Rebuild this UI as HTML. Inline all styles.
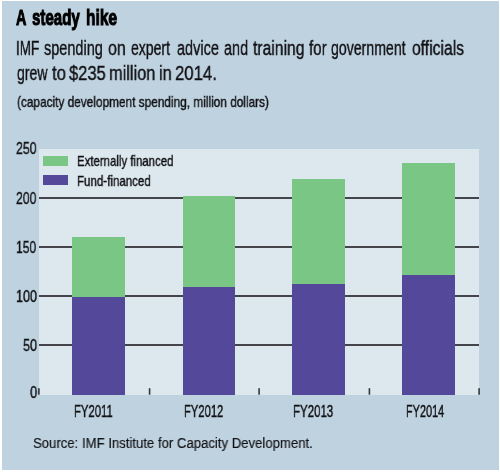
<!DOCTYPE html>
<html><head><meta charset="utf-8">
<style>
html,body{margin:0;padding:0;background:#fff;}
body{width:500px;height:472px;position:relative;overflow:hidden;font-family:"Liberation Sans",sans-serif;color:#111114;}
#bg{position:absolute;left:2px;top:1px;width:497px;height:469px;background:#BFD2E0;}
.t{position:absolute;white-space:nowrap;transform-origin:0 0;line-height:1;will-change:transform;-webkit-text-stroke:0.4px #111114;}
#plot{position:absolute;left:39px;top:149px;width:440px;height:246px;background:#DCE7EE;}
.g{position:absolute;left:39px;width:440px;height:2px;background:#44444b;}
.b{position:absolute;}
.gr{background:#79C685;}
.pu{background:#53489A;}
</style></head><body>
<div id="bg"></div>
<div id="plot"></div>
<div class="g" style="top:196.5px"></div>
<div class="g" style="top:246px"></div>
<div class="g" style="top:295px"></div>
<div class="g" style="top:344px"></div>
<div class="b gr" style="left:72px;top:237px;width:53px;height:60px"></div>
<div class="b pu" style="left:72px;top:297px;width:53px;height:98px"></div>
<div class="b gr" style="left:182.5px;top:196px;width:52.5px;height:91px"></div>
<div class="b pu" style="left:182.5px;top:287px;width:52.5px;height:108px"></div>
<div class="b gr" style="left:292px;top:179px;width:53px;height:105px"></div>
<div class="b pu" style="left:292px;top:284px;width:53px;height:111px"></div>
<div class="b gr" style="left:402px;top:163.3px;width:53px;height:112px"></div>
<div class="b pu" style="left:402px;top:275.3px;width:53px;height:119.7px"></div>
<div class="b gr" style="left:43px;top:156px;width:25px;height:10px"></div>
<div class="b pu" style="left:43px;top:174.5px;width:25px;height:10px"></div>
<svg style="position:absolute;left:0;top:0" width="500" height="472"><g fill="#36363c"><rect x="38.1" y="388.2" width="1.6" height="6.5"/><rect x="148.8" y="388.2" width="1.6" height="6.5"/><rect x="258.3" y="388.2" width="1.6" height="6.5"/><rect x="368.6" y="388.2" width="1.6" height="6.5"/><rect x="478.3" y="388.2" width="1.6" height="6.5"/></g></svg>
<div class="t" style="left:16.71px;top:94.03px;font-size:15.0px;transform:scaleX(0.789)">(capacity development spending, million dollars)</div>
<div class="t" style="left:77.01px;top:154.15px;font-size:14.5px;transform:scaleX(0.7867)">Externally financed</div>
<div class="t" style="left:77.0px;top:173.85px;font-size:14.5px;transform:scaleX(0.7956)">Fund-financed</div>
<div class="t" style="left:16.31px;top:141.39px;font-size:15.8px;transform:scaleX(0.78)">250</div>
<div class="t" style="left:15.72px;top:190.79px;font-size:15.8px;transform:scaleX(0.776)">200</div>
<div class="t" style="left:15.93px;top:239.99px;font-size:15.8px;transform:scaleX(0.7677)">150</div>
<div class="t" style="left:16.0px;top:289.19px;font-size:15.8px;transform:scaleX(0.8)">100</div>
<div class="t" style="left:23.0px;top:338.29px;font-size:15.8px;transform:scaleX(0.8)">50</div>
<div class="t" style="left:29.79px;top:384.89px;font-size:15.8px;transform:scaleX(0.8129)">0</div>
<div class="t" style="left:74.2px;top:404.48px;font-size:15.65px;transform:scaleX(0.7227)">FY2011</div>
<div class="t" style="left:183.8px;top:404.48px;font-size:15.65px;transform:scaleX(0.7166)">FY2012</div>
<div class="t" style="left:292.68px;top:404.48px;font-size:15.65px;transform:scaleX(0.734)">FY2013</div>
<div class="t" style="left:405.63px;top:404.48px;font-size:15.65px;transform:scaleX(0.6967)">FY2014</div>
<div class="t" style="left:33.0px;top:435.57px;font-size:14.0px;-webkit-text-stroke:0.15px #111;transform:scaleX(0.9389)">Source: IMF Institute for Capacity Development.</div>
<div class="t" style="left:16.02px;top:38.0px;font-size:20.0px;transform:scaleX(0.675)">IMF</div>
<div class="t" style="left:44.44px;top:38.0px;font-size:20.0px;transform:scaleX(0.7245)">spending</div>
<div class="t" style="left:107.8px;top:38.0px;font-size:20.0px;transform:scaleX(0.8049)">on</div>
<div class="t" style="left:131.47px;top:38.0px;font-size:20.0px;transform:scaleX(0.7014)">expert</div>
<div class="t" style="left:177.06px;top:38.0px;font-size:20.0px;transform:scaleX(0.7253)">advice</div>
<div class="t" style="left:224.26px;top:38.0px;font-size:20.0px;transform:scaleX(0.7238)">and</div>
<div class="t" style="left:253.4px;top:38.0px;font-size:20.0px;transform:scaleX(0.7844)">training</div>
<div class="t" style="left:308.81px;top:38.0px;font-size:20.0px;transform:scaleX(0.756)">for</div>
<div class="t" style="left:330.97px;top:38.0px;font-size:20.0px;transform:scaleX(0.7064)">government</div>
<div class="t" style="left:412.41px;top:38.0px;font-size:20.0px;transform:scaleX(0.7846)">officials</div>
<div class="t" style="left:16.18px;top:6.84px;font-size:22.2px;font-weight:bold;-webkit-text-stroke:1.1px #000;color:#000;transform:scaleX(0.6467)">A</div>
<div class="t" style="left:32.09px;top:6.84px;font-size:22.2px;font-weight:bold;-webkit-text-stroke:1.1px #000;color:#000;transform:scaleX(0.6791)">steady</div>
<div class="t" style="left:86.1px;top:6.84px;font-size:22.2px;font-weight:bold;-webkit-text-stroke:1.1px #000;color:#000;transform:scaleX(0.6994)">hike</div>
<div class="t" style="left:16.67px;top:62.5px;font-size:20.0px;transform:scaleX(0.7018)">grew</div>
<div class="t" style="left:51.79px;top:62.5px;font-size:20.0px;transform:scaleX(0.8381)">to</div>
<div class="t" style="left:68.59px;top:62.5px;font-size:20.0px;transform:scaleX(0.8276)">$235</div>
<div class="t" style="left:108.98px;top:62.5px;font-size:20.0px;transform:scaleX(0.8184)">million</div>
<div class="t" style="left:159.38px;top:62.5px;font-size:20.0px;transform:scaleX(0.8151)">in</div>
<div class="t" style="left:175.16px;top:62.5px;font-size:20.0px;transform:scaleX(0.8381)">2014.</div>
</body></html>
